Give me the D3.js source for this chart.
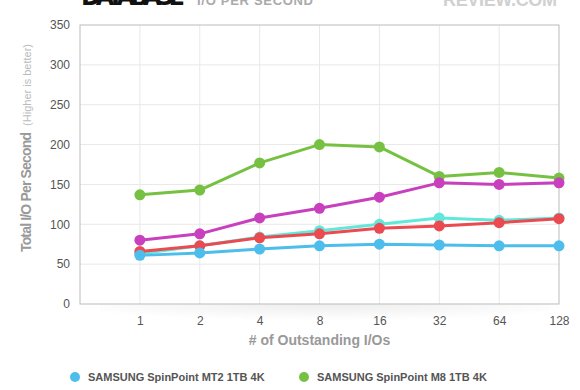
<!DOCTYPE html>
<html><head><meta charset="utf-8">
<script src="https://cdn.jsdelivr.net/npm/d3@7"></script>
<style>html,body{margin:0;padding:0;background:#fff;}svg{display:block;font-family:"Liberation Sans",Arial,sans-serif;}</style>
</head><body><svg id="c" width="580" height="390"></svg>
<script>
const categories = ["1","2","4","8","16","32","64","128"];
const yTicks = [0,50,100,150,200,250,300,350];
const seriesNames = ["SAMSUNG SpinPoint MT2 1TB 4K","SAMSUNG SpinPoint M8 1TB 4K","Drive C 4K","Drive D 4K","Drive E 4K"];
const seriesColors = ["#4dbdec","#77c142","#c940be","#62e8da","#ea4a50"];
const mt2 = [61,64,69,73,75,74,73,73];
const m8 = [137,143,177,200,197,160,165,158];
const magenta = [80,88,108,120,134,152,150,152];
const cyan = [63,73,84,92,100,108,105,108];
const red = [66,73,83,88,95,98,102,107];
const seriesValues = [mt2,m8,magenta,cyan,red];
const drawOrder = [1,2,3,4,0];

const svg = d3.select("#c");
const L=80,R=559,T=25,B=304;
const x = d3.scalePoint().domain([""].concat(categories)).range([L,R]);
const y = d3.scaleLinear().domain([0,350]).range([B,T]);

// shadow under plot
const defs = svg.append("defs");
const rg = defs.append("radialGradient").attr("id","sh").attr("cx","50%").attr("cy","0%").attr("r","60%");
rg.append("stop").attr("offset","0%").attr("stop-color","#000").attr("stop-opacity",0.07);
rg.append("stop").attr("offset","100%").attr("stop-color","#000").attr("stop-opacity",0);
svg.append("rect").attr("x",100).attr("y",B).attr("width",450).attr("height",28).attr("fill","url(#sh)");

// title
svg.append("text").attr("x",81).attr("y",5).attr("font-size",24).attr("font-weight",900)
  .attr("font-family","'DejaVu Sans',sans-serif").attr("fill","#111").attr("textLength",104).text("DATABASE");
svg.append("text").attr("x",197).attr("y",5).attr("font-size",13).attr("font-weight",700).attr("fill","#aaa")
  .attr("textLength",116).text("I/O PER SECOND");
svg.append("text").attr("x",443).attr("y",6).attr("font-size",18).attr("font-weight",700).attr("fill","#d0d0d0")
  .attr("textLength",114).text("REVIEW.COM");

// grid
const g = svg.append("g");
g.selectAll(".hg").data(yTicks.filter(d=>d>0&&d<350)).enter().append("line")
  .attr("x1",L).attr("x2",R).attr("y1",d=>y(d)).attr("y2",d=>y(d)).attr("stroke","#e8e8e8").attr("stroke-width",1);
g.selectAll(".vg").data(categories.slice(0,-1)).enter().append("line")
  .attr("x1",d=>x(d)).attr("x2",d=>x(d)).attr("y1",T).attr("y2",B).attr("stroke","#e8e8e8").attr("stroke-width",1);
g.append("rect").attr("x",L).attr("y",T).attr("width",R-L).attr("height",B-T).attr("fill","none").attr("stroke","#bbb").attr("stroke-width",1);

// axes
const ya = svg.append("g").attr("transform",`translate(${L},0)`)
  .call(d3.axisLeft(y).tickValues(yTicks).tickSize(0).tickPadding(10));
ya.select(".domain").remove();
ya.selectAll("text").attr("font-size",12).attr("fill","#555").attr("font-family","'Liberation Sans',Arial,sans-serif");
const xa = svg.append("g").attr("transform",`translate(0,${B})`)
  .call(d3.axisBottom(x).tickValues(categories).tickSize(0).tickPadding(12));
xa.select(".domain").remove();
xa.selectAll("text").attr("font-size",12).attr("fill","#555").attr("font-family","'Liberation Sans',Arial,sans-serif");

// axis titles
svg.append("text").attr("x",(L+R)/2).attr("y",345).attr("text-anchor","middle").attr("font-size",14).attr("font-weight",700).attr("fill","#999").text("# of Outstanding I/Os");
const yt = svg.append("text").attr("transform","translate(31,148) rotate(-90)").attr("text-anchor","middle");
yt.append("tspan").attr("font-size",14).attr("font-weight",700).attr("fill","#999").attr("textLength",120).text("Total I/O Per Second");
yt.append("tspan").attr("dx",7).attr("font-size",11).attr("fill","#bbb").text("(Higher is better)");

// series
const line = d3.line().x((d,i)=>x(categories[i])).y(d=>y(d));
drawOrder.forEach(si=>{
  const s = svg.append("g");
  s.append("path").datum(seriesValues[si]).attr("d",line).attr("fill","none").attr("stroke",seriesColors[si]).attr("stroke-width",3).attr("stroke-linejoin","round");
  s.selectAll("circle").data(seriesValues[si]).enter().append("circle")
    .attr("cx",(d,i)=>x(categories[i])).attr("cy",d=>y(d)).attr("r",5.5).attr("fill",seriesColors[si]);
});

// legend
const lg = svg.append("g");
seriesNames.forEach((n,i)=>{
  const col = i%2, row = Math.floor(i/2);
  const lx = col===0?75:304, ly = 377 + row*22;
  lg.append("circle").attr("cx",lx).attr("cy",ly).attr("r",5).attr("fill",seriesColors[i]);
  lg.append("text").attr("x",lx+13).attr("y",ly+4).attr("font-size",11).attr("font-weight",700).attr("fill","#555").text(n);
});
</script></body></html>
